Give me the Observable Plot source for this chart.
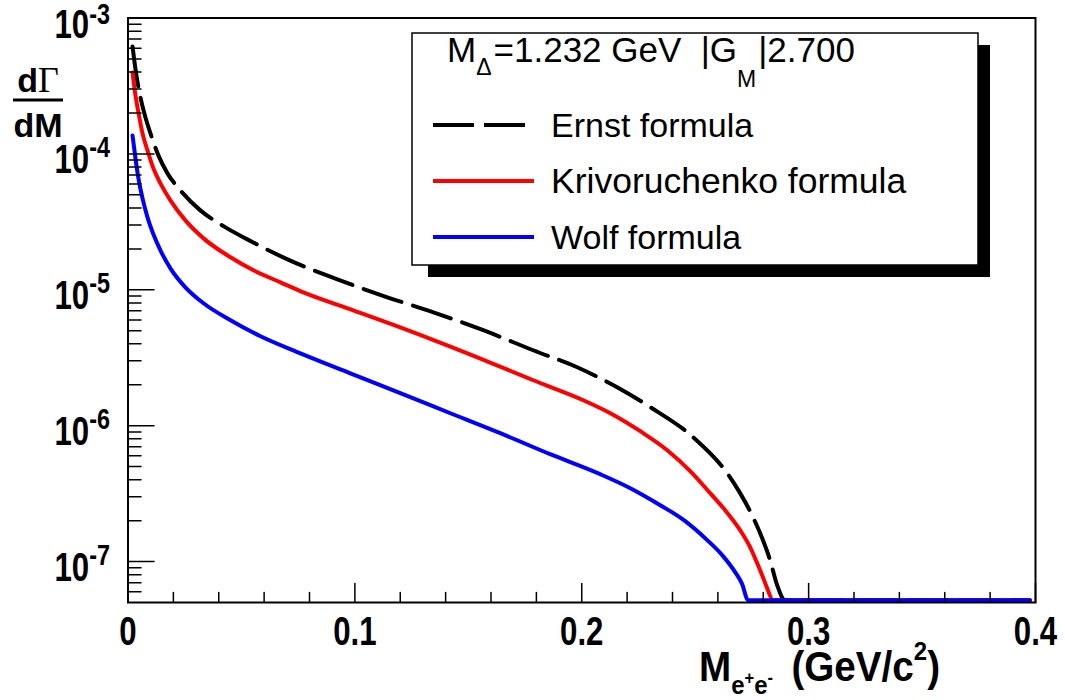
<!DOCTYPE html>
<html><head><meta charset="utf-8">
<script src="https://cdn.jsdelivr.net/npm/d3@7"></script>
<script src="https://cdn.jsdelivr.net/npm/@observablehq/plot@0.6"></script>
<style>
body{margin:0;background:#fff;}
#chart{width:1065px;height:700px;}
</style></head><body><div id="chart"></div>
<script>
// ---- data ----
const ernstMass = [0.0020,0.0037,0.0055,0.0077,0.0099,0.0134,0.0174,0.0231,0.0319,0.0430,0.0526,0.0628,0.0703,0.0923,0.1143,0.1346,0.1566,0.1786,0.1980,0.2081,0.2156,0.2302,0.2491,0.2641,0.2698,0.2755,0.2795,0.2830,0.2861,0.2896,0.3975];
const ernstRate = [6.17e-4,3.78e-4,2.60e-4,1.855e-4,1.415e-4,9.75e-5,7.19e-5,5.39e-5,3.84e-5,2.88e-5,2.35e-5,1.92e-5,1.676e-5,1.194e-5,8.81e-6,6.83e-6,5.04e-6,3.59e-6,2.69e-6,2.235e-6,1.92e-6,1.37e-6,8.23e-7,4.47e-7,3.19e-7,2.12e-7,1.49e-7,1.026e-7,6.72e-8,5.2e-8,5.2e-8];
const krivMass = [0.0020,0.0033,0.0046,0.0064,0.0086,0.0112,0.0143,0.0187,0.0253,0.0333,0.0452,0.0553,0.0672,0.0773,0.0993,0.1200,0.1496,0.1786,0.2007,0.2126,0.2258,0.2377,0.2478,0.2566,0.2632,0.2698,0.2742,0.2773,0.2800,0.2817,0.2843,0.3975];
const krivRate = [3.97e-4,2.69e-4,2.02e-4,1.415e-4,1.06e-4,7.82e-5,6.07e-5,4.55e-5,3.24e-5,2.39e-5,1.734e-5,1.391e-5,1.135e-5,9.58e-6,7.07e-6,5.30e-6,3.41e-6,2.16e-6,1.54e-6,1.236e-6,9.11e-7,6.60e-7,4.63e-7,3.19e-7,2.39e-7,1.704e-7,1.278e-7,9.75e-8,7.56e-8,6.38e-8,5.2e-8,5.2e-8];
const wolfMass = [0.0020,0.0033,0.0046,0.0064,0.0086,0.0112,0.0143,0.0187,0.0253,0.0333,0.0452,0.0584,0.0760,0.0980,0.1200,0.1421,0.1641,0.1861,0.2081,0.2214,0.2346,0.2456,0.2553,0.2619,0.2676,0.2707,0.2733,0.3975];
const wolfRate = [1.368e-4,9.27e-5,6.60e-5,4.71e-5,3.41e-5,2.56e-5,1.952e-5,1.439e-5,1.043e-5,7.96e-6,5.97e-6,4.55e-6,3.41e-6,2.43e-6,1.734e-6,1.235e-6,8.81e-7,6.17e-7,4.40e-7,3.47e-7,2.60e-7,1.985e-7,1.439e-7,1.116e-7,8.37e-8,6.83e-8,5.2e-8,5.2e-8];

const seriesNames = ["Ernst formula", "Krivoruchenko formula", "Wolf formula"];
const seriesColors = ["#000000", "#ff0000", "#0000ff"];
const xMajorTicks = [0, 0.1, 0.2, 0.3, 0.4];
const yMajorTicks = [1e-7, 1e-6, 1e-5, 1e-4, 1e-3];
const xDomain = [0, 0.4];
const yDomain = [5e-8, 1e-3];

// ---- derived ----
const toRows = (xs, ys, name) => xs.map((x, i) => ({mass: x, rate: ys[i], name}));
const ernstRows = toRows(ernstMass, ernstRate, seriesNames[0]);
const krivRows = toRows(krivMass, krivRate, seriesNames[1]);
const wolfRows = toRows(wolfMass, wolfRate, seriesNames[2]);
const xMinorTicks = d3.range(0, 21).map(i => i * 0.02).filter((v, i) => i % 5 !== 0);
const yMinorTicks = [];
for (let k = -8; k <= -4; k++) for (let m = 2; m <= 9; m++) {
  const v = m * Math.pow(10, k);
  if (v > yDomain[0] * 1.001 && v < yDomain[1]) yMinorTicks.push(v);
}
const tickShape = {draw(ctx, l) { ctx.moveTo(0, 0); ctx.lineTo(0, -l); }};
const SX = 0.78;
const FONT = "'Liberation Sans', Arial, Helvetica, sans-serif";

const plot = Plot.plot({
  width: 1065, height: 700,
  marginTop: 17.5, marginRight: 30, marginBottom: 98, marginLeft: 127.5,
  style: {background: "#fff", fontFamily: FONT, overflow: "visible"},
  x: {domain: xDomain},
  y: {type: "log", domain: yDomain},
  marks: [
    Plot.line(ernstRows, {x: "mass", y: "rate", stroke: seriesColors[0], strokeWidth: 4, strokeDasharray: "40,12", curve: "monotone-x"}),
    Plot.line(krivRows, {x: "mass", y: "rate", stroke: seriesColors[1], strokeWidth: 4, curve: "monotone-x"}),
    Plot.line(wolfRows, {x: "mass", y: "rate", stroke: seriesColors[2], strokeWidth: 4, curve: "monotone-x"}),
    Plot.vector(xMinorTicks, {x: d => d, frameAnchor: "bottom", length: 10, rotate: 0, anchor: "start", shape: tickShape, stroke: "black", strokeWidth: 1.5}),
    Plot.vector(xMajorTicks, {x: d => d, frameAnchor: "bottom", length: 19, rotate: 0, anchor: "start", shape: tickShape, stroke: "black", strokeWidth: 1.5}),
    Plot.vector(yMinorTicks, {y: d => d, frameAnchor: "left", length: 13, rotate: 90, anchor: "start", shape: tickShape, stroke: "black", strokeWidth: 1.5}),
    Plot.vector(yMajorTicks, {y: d => d, frameAnchor: "left", length: 26, rotate: 90, anchor: "start", shape: tickShape, stroke: "black", strokeWidth: 1.5}),
    Plot.axisX(xMajorTicks, {tickSize: 0, tickPadding: 14, tickFormat: d => d === 0 ? "0" : d.toFixed(1), fontSize: 40, fontWeight: "bold", label: null}),
    Plot.axisY(yMajorTicks, {tickSize: 0, tickPadding: 18, tickFormat: d => "10^" + Math.round(Math.log10(d)), fontSize: 40, fontWeight: "bold", label: null}),
    Plot.frame({stroke: "black", strokeWidth: 2})
  ]
});
document.getElementById("chart").appendChild(plot);

const svg = d3.select(plot);

// condensed tick labels
svg.selectAll('g[aria-label="x-axis tick label"] text').each(function () {
  const tr = this.getAttribute("transform") || "";
  this.setAttribute("transform", tr + ` scale(${SX},1)`);
});
svg.selectAll('g[aria-label="y-axis tick label"] text').each(function () {
  const t = this.textContent;
  const exp = t.split("^")[1];
  const sel = d3.select(this);
  const tr = this.getAttribute("transform") || "";
  sel.attr("transform", tr + ` scale(${SX},1)`).attr("y", null).attr("dy", null);
  sel.text(null);
  const top = exp === "-3";
  sel.append("tspan").attr("dy", top ? 20 : 19).text("10");
  sel.append("tspan").attr("dy", top ? -14 : -16).attr("font-size", 30).text(exp);
});

// rich-text helper: segments with baseline shift s (px) and font size f
function rich(parent, x, y, segs, opts = {}) {
  const t = parent.append("text")
    .attr("transform", `translate(${x},${y}) scale(${opts.sx || 1},1)`)
    .attr("text-anchor", opts.anchor || "start")
    .attr("font-family", opts.family || FONT)
    .attr("font-weight", opts.weight || "normal")
    .attr("fill", "black");
  let prev = 0;
  segs.forEach(s => {
    const ts = t.append("tspan").attr("dy", (s.s || 0) - prev).attr("font-size", s.f).text(s.t);
    if (s.dx) ts.attr("dx", s.dx);
    if (s.family) ts.attr("font-family", s.family);
    if (s.weight) ts.attr("font-weight", s.weight);
    prev = s.s || 0;
  });
  return t;
}

// y axis title dΓ/dM
const yt = svg.append("g");
rich(yt, 38, 92, [{t: "d", f: 34, weight: "bold"}, {t: "Γ", f: 36, family: "'Liberation Serif', serif", weight: "normal"}], {anchor: "middle", weight: "bold"});
yt.append("line").attr("x1", 13).attr("x2", 63).attr("y1", 100).attr("y2", 100).attr("stroke", "black").attr("stroke-width", 3);
rich(yt, 38, 137, [{t: "dM", f: 34}], {anchor: "middle", weight: "bold"});

// x axis title
rich(svg, 940, 681, [
  {t: "M", f: 42}, {t: "e", s: 13, f: 26}, {t: "+", s: 3, f: 18}, {t: "e", s: 13, f: 26}, {t: "-", s: 3, f: 18},
  {t: "(GeV/c", s: 0, f: 42, dx: 20}, {t: "2", s: -21, f: 26}, {t: ")", s: 0, f: 42}
], {anchor: "end", weight: "bold", sx: 0.92});

// legend
const lg = svg.append("g");
lg.append("rect").attr("x", 428).attr("y", 45).attr("width", 562).attr("height", 232).attr("fill", "black");
lg.append("rect").attr("x", 412).attr("y", 33).attr("width", 566).attr("height", 232).attr("fill", "white").attr("stroke", "black").attr("stroke-width", 1.5);
rich(lg, 447, 62, [
  {t: "M", f: 35}, {t: "Δ", s: 13, f: 23}, {t: "=1.232 GeV  |G", s: 0, f: 35, dx: 2}, {t: "M", s: 25, f: 23}, {t: "|2.700", s: 0, f: 35, dx: 2}
]);
const legendY = [125, 181, 237];
const dashes = ["41,10", null, null];
seriesNames.forEach((name, i) => {
  const ln = lg.append("line").attr("x1", 433).attr("x2", 534).attr("y1", legendY[i]).attr("y2", legendY[i])
    .attr("stroke", seriesColors[i]).attr("stroke-width", 4);
  if (dashes[i]) ln.attr("stroke-dasharray", dashes[i]);
  rich(lg, 551, legendY[i] + 12, [{t: name, f: i === 1 ? 35.5 : 34}]);
});
</script>
</body></html>
